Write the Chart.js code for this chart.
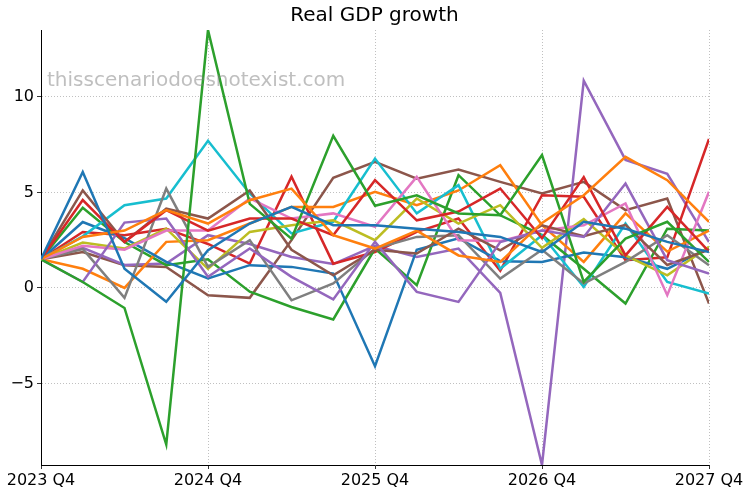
<!DOCTYPE html>
<html lang="en">
<head>
  <meta charset="UTF-8">
  <title>Real GDP growth</title>
  <script src="https://cdn.jsdelivr.net/npm/chart.js"></script>
  <style>
    html, body { margin: 0; padding: 0; background: #fff; }
    #chartContainer { width: 749px; height: 492px; }
  </style>
</head>
<body>
  <div id="chartContainer">
    <canvas id="myChart" width="749" height="492"></canvas>
  </div>

  <script>
    // quarters on the x axis
    const quarters = ['2023 Q4', '2024 Q1', '2024 Q2', '2024 Q3', '2024 Q4', '2025 Q1', '2025 Q2', '2025 Q3',
      '2025 Q4', '2026 Q1', '2026 Q2', '2026 Q3', '2026 Q4', '2027 Q1', '2027 Q2', '2027 Q3', '2027 Q4'];
    const yTicks = [-5, 0, 5, 10];

    // scenario series
    const blueA   = [1.5, 6.07, 1.0, -0.73, 1.97, 3.37, 4.24, 3.28, 3.28, 3.1, 2.93, 2.67, 1.88, 3.46, 3.1, 2.41, 1.88];
    const orangeA = [1.5, 2.67, 3.0, 4.07, 3.37, 4.59, 5.2, 2.76, 2.06, 3.0, 1.7, 1.36, 3.4, 4.85, 6.86, 5.64, 3.46];
    const greenA  = [1.5, 0.31, -1.05, -8.2, 13.5, 4.4, 2.58, 7.96, 4.3, 4.85, 3.9, 3.8, 6.95, 0.31, 2.58, 3.46, 1.36];
    const redA    = [1.5, 4.6, 2.4, 4.07, 3.0, 3.63, 3.63, 2.76, 5.64, 3.54, 4.0, 5.2, 2.6, 5.8, 1.7, 4.24, 1.9];
    const purpleA = [1.5, 0.31, 3.42, 3.63, 0.58, 2.06, 0.58, -0.6, 2.41, -0.21, -0.73, 2.4, 3.0, 2.67, 5.46, 1.45, 0.75];
    const brownA  = [1.5, 5.1, 2.41, 4.15, 3.63, 5.1, 2.0, 0.66, 2.0, 1.8, 3.1, 1.97, 3.28, 2.7, 3.3, 1.2, 2.0];
    const pink    = [1.5, 2.2, 2.0, 3.0, 3.0, 4.68, 3.63, 3.9, 3.2, 5.81, 2.5, 2.45, 3.0, 3.28, 4.42, -0.38, 5.03];
    const gray    = [1.5, 2.04, -0.52, 5.2, 1.1, 2.5, -0.65, 0.23, 2.06, 2.67, 2.76, 0.49, 2.0, 0.23, 1.36, 2.76, 1.19];
    const olive   = [1.5, 2.37, 2.06, 3.1, 1.0, 2.93, 3.28, 3.54, 2.5, 4.68, 3.37, 4.33, 2.1, 3.6, 1.7, 0.66, 2.15];
    const cyan    = [1.5, 2.7, 4.33, 4.68, 7.7, 4.94, 2.85, 3.46, 6.77, 3.9, 5.38, 1.0, 2.76, 0.05, 3.37, 0.31, -0.3];
    const blueB   = [1.5, 3.45, 2.6, 1.36, 0.5, 1.19, 1.1, 0.75, -4.1, 2.0, 2.6, 1.4, 1.36, 1.85, 1.6, 1.0, 2.1];
    const orangeB = [1.5, 1.0, 0.0, 2.41, 2.5, 3.37, 4.24, 4.24, 5.03, 4.33, 5.1, 6.42, 3.28, 1.36, 3.9, 1.9, 3.0];
    const greenB  = [1.5, 4.2, 2.4, 1.19, 1.5, -0.2, -1.0, -1.65, 2.06, 0.14, 5.9, 3.8, 2.76, 1.0, -0.82, 3.1, 3.0];
    const redB    = [1.5, 2.93, 2.76, 3.1, 2.3, 1.27, 5.82, 1.27, 1.88, 2.93, 3.63, 0.9, 4.85, 4.77, 1.45, 1.6, 7.8];
    const purpleB = [1.5, 2.1, 1.2, 1.28, 2.76, 2.3, 1.62, 1.25, 2.2, 1.62, 2.06, -0.26, -9.27, 10.85, 6.7, 5.97, 2.4];
    const brownB  = [1.5, 1.88, 1.19, 1.1, -0.38, -0.52, 2.5, 5.76, 6.6, 5.72, 6.2, 5.55, 4.94, 5.55, 4.07, 4.68, -0.82];

    const series = [
      [blueA, '#1f77b4'], [orangeA, '#ff7f0e'], [greenA, '#2ca02c'], [redA, '#d62728'], [purpleA, '#9467bd'],
      [brownA, '#8c564b'], [pink, '#e377c2'], [gray, '#7f7f7f'], [olive, '#bcbd22'], [cyan, '#17becf'],
      [blueB, '#1f77b4'], [orangeB, '#ff7f0e'], [greenB, '#2ca02c'], [redB, '#d62728'], [purpleB, '#9467bd'],
      [brownB, '#8c564b']
    ];

    const allValues = series.flatMap(s => s[0]);
    const yMin = Math.min(...allValues);
    const yMax = Math.max(...allValues);

    // title centred on the whole figure, watermark inside the plot
    const decorations = {
      id: 'decorations',
      afterDatasetsDraw(chart) {
        const c = chart.ctx;
        c.save();
        c.font = '20px "DejaVu Sans"';
        c.fillStyle = 'rgba(128,128,128,0.5)';
        c.textBaseline = 'middle';
        c.textAlign = 'left';
        c.fillText('thisscenariodoesnotexist.com', chart.chartArea.left + 6, 81);
        c.fillStyle = '#000';
        c.textAlign = 'center';
        c.fillText('Real GDP growth', chart.width / 2, 16);
        c.restore();
      }
    };

    const ctx = document.getElementById('myChart').getContext('2d');
    new Chart(ctx, {
      type: 'line',
      data: {
        datasets: series.map(([vals, color]) => ({
          data: vals.map((v, i) => ({ x: i, y: v })),
          borderColor: color,
          backgroundColor: color,
          borderWidth: 2.5,
          pointRadius: 0,
          tension: 0,
          fill: false
        }))
      },
      options: {
        responsive: false,
        animation: false,
        layout: { padding: { left: 0, right: 40, top: 30, bottom: 0 } },
        plugins: {
          legend: { display: false },
          tooltip: { enabled: false },
          title: { display: false }
        },
        scales: {
          x: {
            type: 'linear',
            min: 0,
            max: quarters.length - 1,
            afterBuildTicks: scale => {
              scale.ticks = quarters.map((q, i) => i).filter(i => i % 4 === 0).map(i => ({ value: i }));
            },
            afterFit: scale => { scale.height = 27; },
            ticks: {
              color: '#000',
              font: { family: 'DejaVu Sans', size: 16 },
              padding: 2,
              maxRotation: 0,
              callback: v => quarters[v]
            },
            grid: { color: '#b0b0b0', lineWidth: 0.8, tickLength: 4, tickColor: '#000' },
            border: { display: true, color: '#000', width: 1, dash: [1, 2] }
          },
          y: {
            min: yMin,
            max: yMax,
            afterBuildTicks: scale => {
              scale.ticks = yTicks.map(v => ({ value: v }));
            },
            afterFit: scale => { scale.width = 41; },
            ticks: {
              color: '#000',
              font: { family: 'DejaVu Sans', size: 16 },
              padding: 3,
              callback: v => v < 0 ? '\u2212' + Math.abs(v) : String(v)
            },
            grid: { color: '#b0b0b0', lineWidth: 0.8, tickLength: 4, tickColor: '#000' },
            border: { display: true, color: '#000', width: 1, dash: [1, 2] }
          }
        }
      },
      plugins: [decorations]
    });
  </script>
</body>
</html>
